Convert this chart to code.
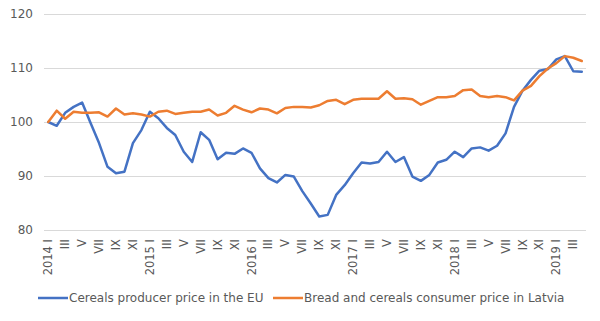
<!DOCTYPE html>
<html>
<head>
<meta charset="utf-8">
<script src="https://cdn.jsdelivr.net/npm/d3@7"></script>
<style>
  body { margin: 0; background: #fff; }
  text { font-family: "DejaVu Sans", Verdana, sans-serif; fill: #595959; }
</style>
</head>
<body>
<div id="chart"></div>
<script>
const years = [2014, 2015, 2016, 2017, 2018, 2019];
const romanMonths = ["I", "II", "III", "IV", "V", "VI", "VII", "VIII", "IX", "X", "XI", "XII"];

// monthly index values, 2014 I .. 2019 IV
const producerEU = [
  100, 99.3, 101.7, 102.8, 103.6, 99.8, 96.1, 91.7, 90.5, 90.8, 96.1, 98.5,
  101.9, 100.7, 98.9, 97.6, 94.5, 92.6, 98.1, 96.7, 93.1, 94.3, 94.1, 95.1,
  94.3, 91.4, 89.6, 88.8, 90.2, 89.9, 87.2, 84.9, 82.5, 82.8, 86.5, 88.3,
  90.5, 92.5, 92.3, 92.6, 94.5, 92.6, 93.5, 89.9, 89.1, 90.2, 92.5, 93.0,
  94.5, 93.5, 95.1, 95.3, 94.7, 95.6, 97.9, 102.8, 105.8, 107.8, 109.5, 109.8,
  111.6, 112.2, 109.4, 109.3
];
const consumerLatvia = [
  100, 102.1, 100.6, 101.9, 101.7, 101.7, 101.8, 101.0, 102.5, 101.4, 101.6, 101.4,
  101.0, 101.9, 102.1, 101.5, 101.7, 101.9, 101.9, 102.3, 101.2, 101.7, 103.0, 102.3,
  101.8, 102.5, 102.3, 101.6, 102.6, 102.8, 102.8, 102.7, 103.1, 103.9, 104.1, 103.3,
  104.1, 104.3, 104.3, 104.3, 105.7, 104.3, 104.4, 104.2, 103.2, 103.9, 104.6, 104.6,
  104.8, 105.9, 106.0, 104.8, 104.6, 104.8, 104.6, 104.0, 105.8, 106.7, 108.5, 109.9,
  110.9, 112.2, 111.9, 111.3
];
const yTicks = [80, 90, 100, 110, 120];
const seriesNames = ["Cereals producer price in the EU", "Bread and cereals consumer price in Latvia"];
const seriesColors = ["#4472C4", "#ED7D31"];

const width = 600;
const height = 321;
const margin = { top: 14, right: 14, bottom: 91, left: 44 };

const categories = producerEU.map((d, i) => {
  const m = i % 12;
  const y = years[Math.floor(i / 12)];
  return m === 0 ? `${y} ${romanMonths[m]}` : romanMonths[m];
});

const svg = d3
  .select("#chart")
  .append("svg")
  .attr("width", width)
  .attr("height", height);

const xScale = d3
  .scaleBand()
  .domain(categories.map((d, i) => i))
  .range([margin.left, width - margin.right]);

const yScale = d3
  .scaleLinear()
  .domain([80, 120])
  .range([height - margin.bottom, margin.top]);

const xPos = (i) => xScale(i) + xScale.bandwidth() / 2;

// horizontal gridlines
svg
  .append("g")
  .selectAll("line")
  .data(yTicks)
  .join("line")
  .attr("x1", margin.left)
  .attr("x2", width - margin.right)
  .attr("y1", (d) => Math.round(yScale(d)) + 0.5)
  .attr("y2", (d) => Math.round(yScale(d)) + 0.5)
  .attr("stroke", "#d9d9d9")
  .attr("stroke-width", 1);

// y tick labels
svg
  .append("g")
  .selectAll("text")
  .data(yTicks)
  .join("text")
  .attr("x", margin.left - 11)
  .attr("y", (d) => yScale(d))
  .attr("dy", "0.35em")
  .attr("text-anchor", "end")
  .style("font-size", "12px")
  .text((d) => d);

// x tick labels, every second month, rotated
svg
  .append("g")
  .selectAll("text")
  .data(categories.map((c, i) => ({ c, i })).filter((d) => d.i % 2 === 0))
  .join("text")
  .attr("transform", (d) => `translate(${xPos(d.i)}, ${height - margin.bottom + 9}) rotate(-90)`)
  .attr("dy", "0.35em")
  .attr("text-anchor", "end")
  .style("font-size", "11.5px")
  .text((d) => d.c);

const lineGenerator = d3
  .line()
  .x((d, i) => xPos(i))
  .y((d) => yScale(d));

svg
  .selectAll(".series")
  .data([producerEU, consumerLatvia])
  .join("path")
  .attr("class", "series")
  .attr("fill", "none")
  .attr("stroke", (d, i) => seriesColors[i])
  .attr("stroke-width", 2.5)
  .attr("stroke-linejoin", "round")
  .attr("stroke-linecap", "round")
  .attr("d", (d) => lineGenerator(d));

// legend
const legendY = 298;
const legendX = [38, 273];
const legend = svg
  .append("g")
  .selectAll("g")
  .data(seriesNames)
  .join("g")
  .attr("transform", (d, i) => `translate(${legendX[i]}, ${legendY})`);

legend
  .append("line")
  .attr("x1", 0)
  .attr("x2", 30)
  .attr("stroke", (d, i) => seriesColors[i])
  .attr("stroke-width", 2.5);

legend
  .append("text")
  .attr("x", 31)
  .attr("dy", "0.35em")
  .style("font-size", "12px")
  .text((d) => d);
</script>
</body>
</html>
